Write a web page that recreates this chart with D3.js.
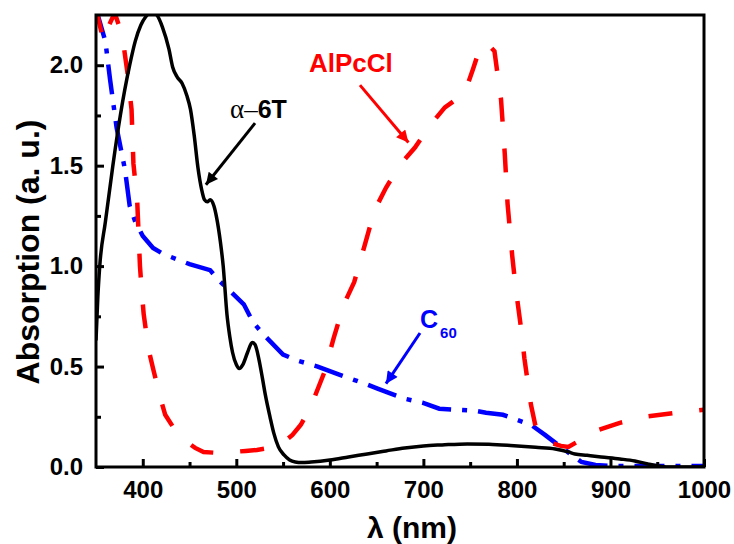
<!DOCTYPE html>
<html>
<head>
<meta charset="utf-8">
<script src="https://cdn.jsdelivr.net/npm/d3@7"></script>
<style>
  html, body { margin: 0; padding: 0; background: #fff; }
  svg { display: block; font-family: "Liberation Sans", Arial, sans-serif; }
</style>
</head>
<body>
<svg id="chart" width="734" height="544"></svg>
<script>
// ---- data ----
const xTicks = [400, 500, 600, 700, 800, 900, 1000];
const xMinorTicks = [450, 550, 650, 750, 850, 950];
const yTicks = [0.0, 0.5, 1.0, 1.5, 2.0];
const yMinorTicks = [0.25, 0.75, 1.25, 1.75];

const t6Wavelength = [350,352,354,360,368,376,386,392,398,403,408,412,415,421,428,432,437,442,447,451,455,459,463,466,469,472,476,479,483,486,490,493,496,500,503,507,512,517,520,524,528,531,536,540,545,551,557,563,570,580,600,620,640,660,680,700,720,747,770,793,820,841,855,862,875,890,910,926,940,951,960,1000];
const t6Absorb = [0.63,0.85,1.0,1.22,1.5,1.75,2.0,2.12,2.2,2.24,2.26,2.26,2.25,2.19,2.08,1.99,1.94,1.91,1.85,1.78,1.65,1.49,1.38,1.33,1.32,1.33,1.30,1.24,1.12,1.0,0.76,0.65,0.57,0.51,0.49,0.51,0.57,0.62,0.61,0.54,0.44,0.36,0.25,0.17,0.10,0.06,0.035,0.025,0.022,0.025,0.035,0.05,0.065,0.08,0.095,0.105,0.11,0.115,0.113,0.107,0.098,0.09,0.075,0.065,0.058,0.05,0.04,0.03,0.015,0.005,0.0,0.0];

const pcWavelength = [350,358,364,370,378,384,388,390,394,397,399,401,406,411,419,424,435,447,456,465,480,497,510,522,535,545,551,560,569,576,583,594,604,615,626,637,648,660,676,691,707,723,744,753,760,764,770,776,780,783,787,790,795,798,801,805,808,815,820,824,833,847,855,870,884,910,937,970,1000];
const pcAbsorb = [2.28,2.12,2.2,2.26,2.15,1.95,1.78,1.51,1.33,1.0,0.87,0.76,0.59,0.49,0.34,0.26,0.18,0.125,0.095,0.075,0.07,0.075,0.08,0.085,0.095,0.11,0.125,0.16,0.21,0.27,0.34,0.47,0.64,0.81,0.92,1.1,1.28,1.39,1.51,1.59,1.70,1.79,1.86,1.98,2.08,2.11,2.10,2.07,1.93,1.83,1.56,1.31,1.05,0.92,0.81,0.67,0.54,0.31,0.20,0.16,0.125,0.105,0.10,0.14,0.18,0.22,0.25,0.27,0.285];

const c60Wavelength = [350,360,365,372,381,386,392,400,411,422,450,472,480,508,518,529,550,565,587,610,640,651,680,699,717,755,767,785,815,830,844,869,884,900,1000];
const c60Absorb = [2.28,2.12,1.93,1.69,1.48,1.30,1.22,1.15,1.09,1.06,1.01,0.98,0.935,0.81,0.72,0.66,0.56,0.53,0.50,0.46,0.41,0.39,0.34,0.32,0.29,0.28,0.27,0.26,0.21,0.16,0.11,0.025,0.01,0.005,0.005];

// ---- layout ----
const svg = d3.select("#chart");
const margin = {left: 96, top: 15, right: 30, bottom: 77};
const W = 734, H = 544;
const x = d3.scaleLinear().domain([350, 1000]).range([margin.left, W - margin.right]);
const y = d3.scaleLinear().domain([0, 2.25]).range([H - margin.bottom, margin.top]);
const x0 = x.range()[0], x1 = x.range()[1], y0 = y.range()[0], y1 = y.range()[1];

svg.append("defs").append("clipPath").attr("id", "plotclip")
  .append("rect").attr("x", x0).attr("y", y1).attr("width", x1 - x0).attr("height", y0 - y1);

// arrow markers
const defs = svg.select("defs");
[["blk", "#000"], ["red", "#ff0000"], ["blu", "#0000ff"]].forEach(([id, c]) => {
  defs.append("marker").attr("id", "arr-" + id)
    .attr("viewBox", "0 0 10 10").attr("refX", 10).attr("refY", 5)
    .attr("markerUnits", "userSpaceOnUse").attr("markerWidth", 16).attr("markerHeight", 12)
    .attr("orient", "auto")
    .append("path").attr("d", "M0,0 L10,5 L0,10 z").attr("fill", c);
});

const plot = svg.append("g").attr("clip-path", "url(#plotclip)");

const lineGen = (curve) => d3.line().x(d => x(d[0])).y(d => y(d[1])).curve(curve);

// C60 blue dash-dot
plot.append("path")
  .datum(d3.zip(c60Wavelength, c60Absorb))
  .attr("d", lineGen(d3.curveLinear))
  .attr("fill", "none").attr("stroke", "#0000ff").attr("stroke-width", 4.5)
  .attr("stroke-dasharray", "30,11,5,11");

// AlPcCl red dashed
plot.append("path")
  .datum(d3.zip(pcWavelength, pcAbsorb))
  .attr("d", lineGen(d3.curveLinear))
  .attr("fill", "none").attr("stroke", "#ff0000").attr("stroke-width", 4.5)
  .attr("stroke-dasharray", "24,27");

// alpha-6T black solid
plot.append("path")
  .datum(d3.zip(t6Wavelength, t6Absorb))
  .attr("d", lineGen(d3.curveMonotoneX))
  .attr("fill", "none").attr("stroke", "#000").attr("stroke-width", 3.5)
  .attr("stroke-linejoin", "round");

// ---- axes ----
const xAxis = d3.axisBottom(x).tickValues(xTicks).tickSize(-8).tickPadding(14).tickFormat(d3.format("d"));
const xAxisMinor = d3.axisBottom(x).tickValues(xMinorTicks).tickSize(-5).tickFormat("");
const yAxis = d3.axisLeft(y).tickValues(yTicks).tickSize(-8).tickPadding(13).tickFormat(d3.format(".1f"));
const yAxisMinor = d3.axisLeft(y).tickValues(yMinorTicks).tickSize(-5).tickFormat("");

function styleAxis(g) {
  g.select(".domain").remove();
  g.selectAll(".tick line").attr("stroke", "#000").attr("stroke-width", 3);
  g.selectAll(".tick text").attr("fill", "#000").style("font-size", "24px").attr("font-weight", "bold")
    .attr("font-family", "'Liberation Sans', Arial, sans-serif");
}
svg.append("g").attr("transform", `translate(0,${y0})`).call(xAxis).call(styleAxis);
svg.append("g").attr("transform", `translate(0,${y0})`).call(xAxisMinor).call(styleAxis);
svg.append("g").attr("transform", `translate(${x0},0)`).call(yAxis).call(styleAxis);
svg.append("g").attr("transform", `translate(${x0},0)`).call(yAxisMinor).call(styleAxis);

// frame
svg.append("rect").attr("x", x0).attr("y", y1).attr("width", x1 - x0).attr("height", y0 - y1)
  .attr("fill", "none").attr("stroke", "#000").attr("stroke-width", 3);

// axis titles
svg.append("text").attr("x", 412).attr("y", 538).attr("text-anchor", "middle")
  .style("font-size", "30px").attr("font-weight", "bold").text("λ (nm)");
svg.append("text").attr("transform", "translate(39,252) rotate(-90)").attr("text-anchor", "middle")
  .style("font-size", "32px").attr("font-weight", "bold").text("Absorption (a. u.)");

// ---- annotations (data coordinates) ----
// AlPcCl
svg.append("text").attr("x", x(577.7)).attr("y", y(1.966)).attr("fill", "#ff0000")
  .style("font-size", "26px").attr("font-weight", "bold").text("AlPcCl");
svg.append("line").attr("x1", x(632.2)).attr("y1", y(1.901)).attr("x2", x(684)).attr("y2", y(1.615))
  .attr("stroke", "#ff0000").attr("stroke-width", 3).attr("marker-end", "url(#arr-red)");

// alpha-6T
const t6 = svg.append("text").attr("x", x(493.3)).attr("y", y(1.737));
t6.append("tspan").style("font-size", "27px").style("font-family", "'Liberation Serif', 'Times New Roman', serif").text("α–");
t6.append("tspan").style("font-size", "25px").attr("font-weight", "bold").text("6T");
svg.append("line").attr("x1", x(520)).attr("y1", y(1.712)).attr("x2", x(467.5)).attr("y2", y(1.405))
  .attr("stroke", "#000").attr("stroke-width", 3).attr("marker-end", "url(#arr-blk)");

// C60
const c = svg.append("text").attr("x", x(696.4)).attr("y", y(0.692)).attr("fill", "#0000ff").attr("font-weight", "bold");
c.append("tspan").style("font-size", "25px").text("C");
c.append("tspan").style("font-size", "15px").attr("dx", 2).attr("dy", 10).text("60");
svg.append("line").attr("x1", x(696.4)).attr("y1", y(0.667)).attr("x2", x(660)).attr("y2", y(0.415))
  .attr("stroke", "#0000ff").attr("stroke-width", 3).attr("marker-end", "url(#arr-blu)");
</script>
</body>
</html>
